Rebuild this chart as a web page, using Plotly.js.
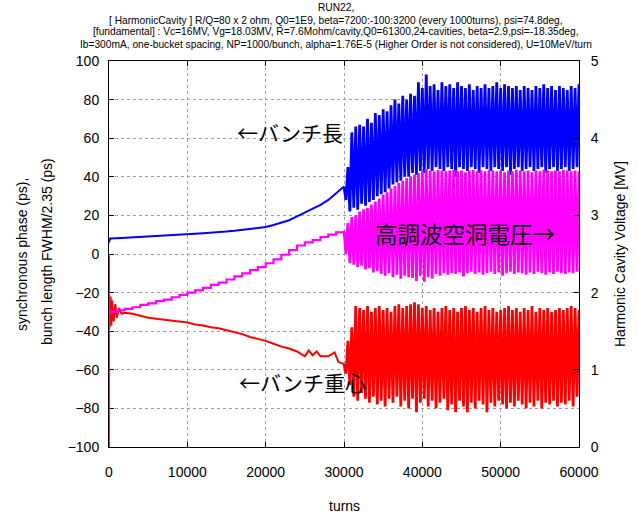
<!DOCTYPE html>
<html>
<head>
<meta charset="utf-8">
<script src="https://cdn.plot.ly/plotly-3.0.1.min.js"></script>
<style>html,body{margin:0;padding:0;background:#fff;}#chart{width:638px;height:514px;}</style>
</head>
<body>
<div id="chart"></div>
<script>
// ---------- DATA ----------
const titleLines = [
  "RUN22,",
  "[ HarmonicCavity ] R/Q=80 x 2 ohm, Q0=1E9, beta=7200:-100:3200 (every 1000turns), psi=74.8deg,",
  "[fundamental] : Vc=16MV, Vg=18.03MV, R=7.6Mohm/cavity,Q0=61300,24-cavities, beta=2.9,psi=-18.35deg,",
  "Ib=300mA, one-bucket spacing, NP=1000/bunch, alpha=1.76E-5 (Higher Order is not considered), U=10MeV/turn"
];
const xTitle = "turns";
const yTitleLines = ["synchronous phase (ps),", "bunch length FWHM/2.35 (ps)"];
const y2Title = "Harmonic Cavity Voltage [MV]";
const labelLength = "←バンチ長";
const labelVoltage = "高調波空洞電圧→";
const labelCentroid = "←バンチ重心";

const xTickVals = [0, 10000, 20000, 30000, 40000, 50000, 60000];
const xTickText = ["0", "10000", "20000", "30000", "40000", "50000", "60000"];
const yTickVals = [-100, -80, -60, -40, -20, 0, 20, 40, 60, 80, 100];
const y2TickVals = [0, 1, 2, 3, 4, 5];

// bunch length (ps) before the instability, smooth part
const lenTurns = [0, 150, 1000, 2000, 3000, 4000, 5000, 6000, 7000, 8000, 9000, 10000, 11000, 12000, 13000, 14000, 15000, 16000, 17000, 18000, 19000, 20000, 21000, 22000, 23000, 24000, 25000, 26000, 27000, 28000, 29000, 30000];
const lenValues = [6.0, 8.0, 8.2, 8.4, 8.6, 8.8, 9.0, 9.2, 9.5, 9.8, 10.0, 10.2, 10.5, 10.8, 11.0, 11.3, 11.6, 12.0, 12.5, 13.2, 13.6, 14.0, 15.0, 16.2, 17.5, 19.5, 21.5, 23.5, 25.5, 28.0, 31.5, 35.0];

// synchronous phase (ps) before the instability
const phaseTurns = [0, 100, 200, 300, 400, 600, 800, 1000, 1300, 1600, 2000, 3000, 4000, 5000, 6000, 7000, 8000, 9000, 10000, 11000, 12000, 13000, 14000, 15000, 16000, 17000, 18000, 19000, 20000, 21000, 22000, 23000, 24000, 25000, 25500, 26000, 26500, 27000, 28000, 28800, 29300, 30000];
const phaseValues = [-20, -38, -22, -37, -24, -35, -26, -33, -28, -31, -30.5, -31, -32, -33, -33.5, -34, -34.5, -35, -35.5, -36.5, -37, -38, -38.5, -39.5, -40.5, -41.5, -43, -44, -45, -46.5, -48, -49, -50.5, -53, -50, -52.5, -50.5, -53, -53, -51, -56, -57];

// harmonic cavity voltage (MV), changes every 1000 turns
const voltTurns = [0, 0, 0, 1000, 2000, 3000, 4000, 5000, 6000, 7000, 8000, 9000, 10000, 11000, 12000, 13000, 14000, 15000, 16000, 17000, 18000, 19000, 20000, 21000, 22000, 23000, 24000, 25000, 26000, 27000, 28000, 29000, 30000];
const voltValues = [2.5, 0, 1.75, 1.77, 1.79, 1.81, 1.84, 1.86, 1.89, 1.91, 1.94, 1.97, 2.00, 2.03, 2.06, 2.10, 2.13, 2.17, 2.21, 2.25, 2.29, 2.33, 2.38, 2.43, 2.49, 2.55, 2.61, 2.65, 2.68, 2.72, 2.75, 2.78, 2.80];

// oscillating region: envelope read every 500 turns from 30500 to 60000
const bandStart = 30500, bandStep = 500;
const lenUpper = [45, 63, 66, 67, 66, 70, 68, 73, 72, 75, 74, 77, 80, 78, 82, 80, 83, 82, 89, 86, 93, 87, 88, 85, 89, 87, 88, 86, 89, 87, 86, 88, 85, 87, 86, 88, 86, 87, 89, 86, 88, 87, 86, 87, 85, 87, 86, 85, 87, 86, 88, 86, 87, 85, 87, 86, 85, 87, 86, 88];
const lenLower = [28, 22, 24, 23, 26, 25, 27, 28, 30, 31, 32, 34, 36, 37, 38, 40, 40, 42, 41, 43, 42, 44, 43, 45, 44, 43, 45, 44, 40, 45, 44, 43, 45, 44, 42, 45, 44, 43, 45, 44, 43, 45, 41, 44, 45, 43, 44, 45, 43, 44, 45, 42, 44, 45, 43, 44, 45, 43, 44, 45];
const phaseUpper = [-45, -38, -27, -28, -29, -27, -30, -28, -27, -29, -28, -30, -27, -26, -28, -27, -26, -25, -26, -28, -27, -29, -28, -30, -28, -27, -29, -28, -30, -28, -27, -29, -28, -30, -28, -27, -29, -28, -30, -29, -28, -27, -29, -28, -30, -28, -29, -27, -30, -28, -29, -28, -30, -29, -28, -29, -28, -27, -28, -29];
const phaseLower = [-62, -68, -74, -76, -72, -75, -77, -74, -78, -76, -79, -75, -77, -74, -79, -76, -80, -75, -82, -77, -75, -79, -76, -80, -77, -75, -81, -78, -82, -76, -79, -82, -77, -80, -76, -78, -82, -77, -79, -76, -78, -80, -77, -79, -76, -78, -80, -77, -79, -76, -80, -77, -78, -76, -79, -77, -78, -76, -79, -74];
const voltUpper = [2.90, 2.98, 3.00, 3.05, 3.08, 3.10, 3.14, 3.18, 3.22, 3.27, 3.30, 3.35, 3.38, 3.42, 3.45, 3.48, 3.50, 3.53, 3.55, 3.57, 3.60, 3.58, 3.57, 3.59, 3.58, 3.57, 3.58, 3.59, 3.57, 3.58, 3.56, 3.58, 3.59, 3.57, 3.58, 3.57, 3.59, 3.58, 3.57, 3.58, 3.56, 3.58, 3.57, 3.59, 3.58, 3.57, 3.58, 3.56, 3.58, 3.57, 3.59, 3.58, 3.57, 3.58, 3.57, 3.59, 3.58, 3.57, 3.58, 3.57];
const voltLower = [2.50, 2.38, 2.36, 2.33, 2.35, 2.30, 2.32, 2.26, 2.28, 2.24, 2.22, 2.25, 2.20, 2.23, 2.18, 2.22, 2.20, 2.19, 2.15, 2.22, 2.14, 2.20, 2.18, 2.24, 2.22, 2.25, 2.23, 2.25, 2.24, 2.26, 2.21, 2.25, 2.27, 2.24, 2.26, 2.23, 2.25, 2.27, 2.24, 2.26, 2.22, 2.25, 2.27, 2.24, 2.26, 2.25, 2.23, 2.26, 2.24, 2.27, 2.25, 2.23, 2.26, 2.24, 2.27, 2.25, 2.24, 2.26, 2.25, 2.27];

// ---------- BUILD ----------
function zigzag(upper, lower, startX, startY) {
  const x = [startX], y = [startY];
  for (let i = 0; i < upper.length; i++) {
    const t = bandStart + bandStep * i;
    x.push(t - bandStep / 2); y.push(lower[i]);
    x.push(t); y.push(upper[i]);
  }
  return {x, y};
}
const last = a => a[a.length - 1];
const lenBand = zigzag(lenUpper, lenLower, last(lenTurns), last(lenValues));
const phaseBand = zigzag(phaseUpper, phaseLower, last(phaseTurns), last(phaseValues));
const voltBand = zigzag(voltUpper, voltLower, last(voltTurns), last(voltValues));

const FONT = "Liberation Sans, Arial, Helvetica, sans-serif";
const JP = "Noto Sans CJK JP, sans-serif";
const BLUE = "#0000ff", RED = "#ff0000", MAG = "#ff00ff";
const lwLine = 2, lwBand = 2.8;

const traces = [
  {x: lenTurns, y: lenValues, type: "scatter", mode: "lines", line: {color: BLUE, width: lwLine}, hoverinfo: "skip", cliponaxis: false},
  {x: lenBand.x, y: lenBand.y, type: "scatter", mode: "lines", line: {color: BLUE, width: lwBand}, hoverinfo: "skip"},
  {x: phaseTurns, y: phaseValues, type: "scatter", mode: "lines", line: {color: RED, width: lwLine}, hoverinfo: "skip"},
  {x: phaseBand.x, y: phaseBand.y, type: "scatter", mode: "lines", line: {color: RED, width: lwBand}, hoverinfo: "skip"},
  {x: voltTurns, y: voltValues, type: "scatter", mode: "lines", yaxis: "y2", line: {color: MAG, width: 2.2, shape: "hv"}, hoverinfo: "skip"},
  {x: voltBand.x, y: voltBand.y, type: "scatter", mode: "lines", yaxis: "y2", line: {color: MAG, width: lwBand}, hoverinfo: "skip"}
];

const annotations = [];
const titleY = [8, 20, 32, 44];
titleLines.forEach((t, i) => annotations.push({
  text: t, xref: "paper", yref: "paper", x: (336 - 109) / 470, y: 1 + (61 - titleY[i]) / 386,
  xanchor: "center", yanchor: "middle", showarrow: false, font: {family: FONT, size: 10.2, color: "#000"}
}));
annotations.push({text: xTitle, xref: "paper", yref: "paper", x: (344 - 109) / 470, y: -(506 - 447) / 386,
  xanchor: "center", yanchor: "middle", showarrow: false, font: {family: FONT, size: 14, color: "#000"}});
annotations.push({text: yTitleLines[0], xref: "paper", yref: "paper", x: (22 - 109) / 470, y: (447 - 255) / 386,
  xanchor: "center", yanchor: "middle", textangle: -90, showarrow: false, font: {family: FONT, size: 14, color: "#000"}});
annotations.push({text: yTitleLines[1], xref: "paper", yref: "paper", x: (47 - 109) / 470, y: (447 - 252) / 386,
  xanchor: "center", yanchor: "middle", textangle: -90, showarrow: false, font: {family: FONT, size: 14, color: "#000"}});
annotations.push({text: y2Title, xref: "paper", yref: "paper", x: (620 - 109) / 470, y: (447 - 254) / 386,
  xanchor: "center", yanchor: "middle", textangle: -90, showarrow: false, font: {family: FONT, size: 14, color: "#000"}});
annotations.push({text: labelLength, x: 23150, y: 63.4, xref: "x", yref: "y", xanchor: "center", yanchor: "middle",
  showarrow: false, font: {family: JP, size: 21, color: "#000"}});
annotations.push({text: labelVoltage, x: 45490, y: 10.9, xref: "x", yref: "y", xanchor: "center", yanchor: "middle",
  showarrow: false, font: {family: JP, size: 22.5, color: "#000"}});
annotations.push({text: labelCentroid, x: 24680, y: -66.5, xref: "x", yref: "y", xanchor: "center", yanchor: "middle",
  showarrow: false, font: {family: JP, size: 21, color: "#000"}});

const layout = {
  width: 638, height: 514,
  margin: {l: 109, r: 59, t: 61, b: 67, pad: 0},
  paper_bgcolor: "#fff", plot_bgcolor: "#fff",
  showlegend: false,
  font: {family: FONT, color: "#000"},
  xaxis: {
    range: [0, 60000], tickvals: xTickVals, ticktext: xTickText,
    ticks: "inside", ticklen: 5, tickcolor: "#000", tickwidth: 1,
    showline: true, mirror: "ticks", linecolor: "#000", linewidth: 1,
    showgrid: true, gridcolor: "#a0a0a0", griddash: "dot", gridwidth: 1,
    zeroline: false, tickfont: {family: FONT, size: 14, color: "#000"}, ticklabelstandoff: 12
  },
  yaxis: {
    range: [-100, 100], tickvals: yTickVals, layer: "below traces",
    ticks: "inside", ticklen: 5, tickcolor: "#000", tickwidth: 1,
    showline: true, mirror: false, linecolor: "#000", linewidth: 1,
    showgrid: true, gridcolor: "#a0a0a0", griddash: "dot", gridwidth: 1,
    zeroline: false, tickfont: {family: FONT, size: 14, color: "#000"}, ticklabelstandoff: 6
  },
  yaxis2: {
    range: [0, 5], tickvals: y2TickVals, overlaying: "y", side: "right",
    ticks: "inside", ticklen: 5, tickcolor: "#000", tickwidth: 1,
    showline: true, linecolor: "#000", linewidth: 1,
    showgrid: false, zeroline: false, tickfont: {family: FONT, size: 14, color: "#000"}, ticklabelstandoff: 8
  },
  annotations: annotations
};

Plotly.newPlot("chart", traces, layout, {staticPlot: true, displayModeBar: false});
</script>
</body>
</html>
